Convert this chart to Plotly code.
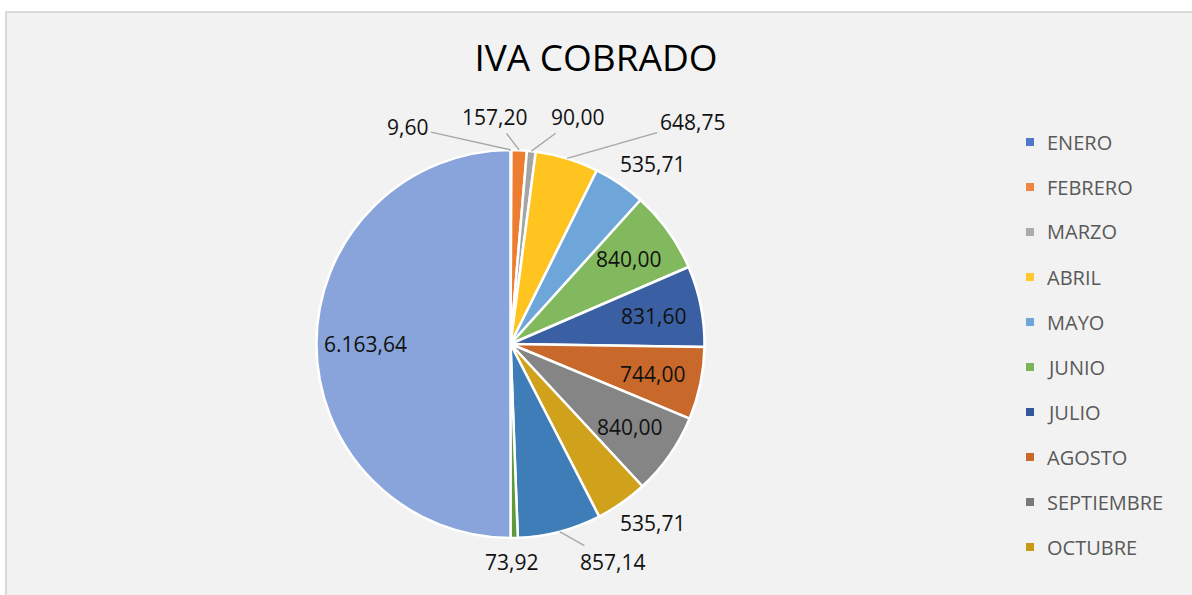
import math
import plotly.graph_objects as go

# ---------------- data ----------------
categories = ["ENERO", "FEBRERO", "MARZO", "ABRIL", "MAYO", "JUNIO", "JULIO",
              "AGOSTO", "SEPTIEMBRE", "OCTUBRE", "NOVIEMBRE", "DICIEMBRE", "TOTAL"]
values = [9.60, 157.20, 90.00, 648.75, 535.71, 840.00, 831.60,
          744.00, 840.00, 535.71, 857.14, 73.92, 6163.64]
title_text = "IVA COBRADO"
legend_shown = 10  # legend entries visible (rest are clipped in the original)

# ---------------- styles ----------------
W, H = 1192, 595
slice_colors = ["#5B83CC", "#ED7D31", "#A5A5A5", "#FFC41F", "#6EA6DA", "#82B95E",
                "#3B5FA3", "#C8692B", "#858585", "#D0A11A", "#3F7DB8", "#5E9A3C", "#88A4DA"]
legend_colors = ["#4F78C8", "#EE8644", "#ABABAB", "#FFC830", "#6EA6DA", "#7DB55A",
                 "#34569A", "#C8692B", "#7A7A7A", "#C89A10", "#3F7DB8", "#5E9A3C"]
FONT = "Open Sans"
label_font_size = 21

# label placement: "in" = inside at fraction of radius, "out" = pixel offset from slice edge
label_mode = ["out", "out", "out", "out", "out", "in", "in", "in", "in", "out", "out", "out", "in"]
label_offsets = [(-103, -23), (-25, -33), (46, -34), (125, -36), (33, -20), None, None, None, None,
                 (31, 20), (53, 30), (-3, 24), None]
leader_line = [True, True, True, True, False, False, False, False, False, False, True, False, False]
inside_k = 0.75

# pie geometry (pixels)
cx_px, cy_px, R = 510.5, 344.0, 194.0
cxp, cyp = cx_px / W, 1 - cy_px / H
dom_x = [cxp - R / W, cxp + R / W]
dom_y = [cyp - R / H, cyp + R / H]


def es_format(v):
    s = f"{v:,.2f}"
    return s.replace(",", "X").replace(".", ",").replace("X", ".")


fig = go.Figure()
fig.add_trace(go.Pie(
    labels=categories, values=values, sort=False, direction="clockwise", rotation=0,
    marker=dict(colors=slice_colors, line=dict(color="white", width=2.5)),
    textinfo="none", hoverinfo="label+value", showlegend=False,
    domain=dict(x=dom_x, y=dom_y),
))

# data labels computed from the values
total = sum(values)
annotations = []
cum = 0.0
for i, v in enumerate(values):
    mid = (cum + v / 2) / total
    cum += v
    th = 2 * math.pi * mid
    txt = es_format(v)
    if label_mode[i] == "in":
        r = inside_k * R
        annotations.append(dict(
            x=cxp + r * math.sin(th) / W, y=cyp + r * math.cos(th) / H,
            xref="paper", yref="paper", text=txt, showarrow=False,
            font=dict(family=FONT, size=label_font_size, color="#111111"),
            xanchor="center", yanchor="middle"))
    else:
        dx, dy = label_offsets[i]
        annotations.append(dict(
            x=cxp + R * math.sin(th) / W, y=cyp + R * math.cos(th) / H,
            xref="paper", yref="paper", text=txt, showarrow=True,
            ax=dx, ay=dy, axref="pixel", ayref="pixel",
            arrowhead=0, arrowwidth=1.3, standoff=0, startstandoff=1,
            arrowcolor="#A6A6A6" if leader_line[i] else "rgba(0,0,0,0)",
            font=dict(family=FONT, size=label_font_size, color="#111111")))

# manual legend (only the entries visible in the original)
shapes = [dict(type="rect", xref="paper", yref="paper", x0=6 / W, x1=1.01, y0=-0.01, y1=1 - 12 / H,
               fillcolor="#F2F2F2", line=dict(color="#D9D9D9", width=2), layer="below")]
leg_x_sq, leg_x_txt, leg_y0, leg_dy, sq = 1026, 1045, 142, 45, 8
for j in range(legend_shown):
    yc = leg_y0 + j * leg_dy
    shapes.append(dict(type="rect", xref="paper", yref="paper",
                       x0=leg_x_sq / W, x1=(leg_x_sq + sq) / W,
                       y0=1 - (yc + sq / 2) / H, y1=1 - (yc - sq / 2) / H,
                       fillcolor=legend_colors[j], line=dict(width=0)))
    annotations.append(dict(x=leg_x_txt / W, y=1 - yc / H, xref="paper", yref="paper",
                            text=categories[j], showarrow=False, xanchor="left", yanchor="middle",
                            font=dict(family=FONT, size=20, color="#595959")))

fig.update_layout(
    width=W, height=H, margin=dict(l=0, r=0, t=0, b=0),
    paper_bgcolor="white", plot_bgcolor="white",
    title=dict(text=title_text, x=0.5, xanchor="center", y=1 - 58 / H, yanchor="middle",
               yref="paper", font=dict(family=FONT, size=37, color="#000000")),
    shapes=shapes, annotations=annotations, showlegend=False,
)

fig.write_html("out.html", config={"displayModeBar": False},
               post_script="document.body.style.margin='0';document.body.style.overflow='hidden';")
